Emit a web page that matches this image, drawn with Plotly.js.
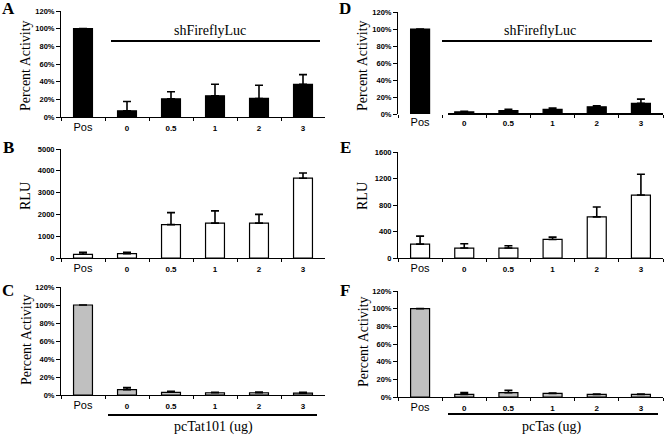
<!DOCTYPE html>
<html><head><meta charset="utf-8">
<script src="https://cdn.plot.ly/plotly-3.0.1.min.js"></script>
<style>html,body{margin:0;padding:0;background:#fff}#c{width:664px;height:435px}</style>
</head><body><div id="c"></div>
<script>
// ---- data ----
const categories = ['Pos', '0', '0.5', '1', '2', '3'];
const A_vals = [100, 7, 20.5, 24, 21, 37];
const A_err  = [0, 10.5, 8, 13, 15, 11];
const B_vals = [170, 200, 1530, 1600, 1600, 3660];
const B_err  = [90, 60, 550, 560, 400, 240];
const C_vals = [100, 6, 3, 2.5, 2.5, 2];
const C_err  = [0, 2.2, 1, 0.4, 0.8, 1];
const D_vals = [100, 2.4, 4, 5.5, 8.5, 12.5];
const D_err  = [0, 0.8, 1.5, 1.5, 1.2, 5];
const E_vals = [210, 150, 150, 280, 620, 950];
const E_err  = [120, 65, 35, 35, 150, 315];
const F_vals = [100, 3, 5, 4, 3, 3];
const F_err  = [0, 2, 2.7, 0.5, 0.4, 0.3];
const pctTicks = [0, 20, 40, 60, 80, 100, 120];
const B_ticks = [0, 1000, 2000, 3000, 4000, 5000];
const E_ticks = [0, 400, 800, 1200, 1600];

// ---- helpers ----
const W = 664, H = 435;
const px = x => x / W;
const py = y => 1 - y / H;
const zeros = n => new Array(n).fill(0);
const tickText = categories.map(c => c === 'Pos' ? 'Pos' : '<b><span style="font-size:8px">' + c + '</span></b>');

function bar(vals, err, fill, ax) {
  return {
    type: 'bar', x: categories, y: vals, width: 0.43,
    xaxis: 'x' + ax, yaxis: 'y' + ax,
    marker: {color: fill, line: {color: '#000', width: 1.2}},
    error_y: {type: 'data', symmetric: false, array: err, arrayminus: zeros(err.length),
              color: '#000', thickness: 1.6, width: 4},
    hoverinfo: 'skip', showlegend: false
  };
}
const traces = [
  bar(A_vals, A_err, '#000', ''),
  bar(B_vals, B_err, '#fff', '2'),
  bar(C_vals, C_err, '#c0c0c0', '3'),
  bar(D_vals, D_err, '#000', '4'),
  bar(E_vals, E_err, '#fff', '5'),
  bar(F_vals, F_err, '#c0c0c0', '6')
];

const tickFontY = {family: 'Liberation Sans, Arial, sans-serif', size: 7.5, color: '#000', weight: 'bold'};
const tickFontX = {family: 'Liberation Sans, Arial, sans-serif', size: 11, color: '#000'};

function xax(d0, d1, anchor, showline) {
  return {domain: [px(d0), px(d1)], anchor: anchor, type: 'category',
    categoryorder: 'array', categoryarray: categories, range: [-0.5, 5.5],
    tickmode: 'array', tickvals: categories, ticktext: tickText,
    showline: showline, linecolor: '#000', linewidth: 1, ticks: 'outside', tickson: 'boundaries',
    ticklen: 3, tickcolor: '#000', tickfont: tickFontX, showgrid: false, zeroline: false, fixedrange: true};
}
function yax(b, t, anchor, range, tv, suffix) {
  return {domain: [py(b), py(t)], anchor: anchor, range: range, tickmode: 'array', tickvals: tv,
    ticktext: tv.map(v => v + suffix), showline: true, linecolor: '#000', linewidth: 1,
    ticks: 'outside', ticklen: 4, tickcolor: '#000', tickfont: tickFontY,
    showgrid: false, zeroline: false, fixedrange: true};
}

const letterFont = {family: 'Liberation Serif, Times New Roman, serif', size: 17, color: '#000', weight: 'bold'};
const titleFont = {family: 'Liberation Serif, Times New Roman, serif', size: 14, color: '#000'};
function ann(text, x, y, font, angle) {
  return {text: text, x: px(x), y: py(y), xref: 'paper', yref: 'paper', showarrow: false,
    xanchor: 'center', yanchor: 'middle', font: font, textangle: angle || 0};
}
function hline(x0, x1, y) {
  return {type: 'line', xref: 'paper', yref: 'paper', x0: px(x0), x1: px(x1), y0: py(y), y1: py(y),
    line: {color: '#000', width: 1.8}};
}

const layout = {
  width: W, height: H, margin: {l: 0, r: 0, t: 0, b: 0},
  paper_bgcolor: '#fff', plot_bgcolor: 'rgba(0,0,0,0)', showlegend: false,
  xaxis:  xax(61, 325, 'y', true),
  yaxis:  yax(117, 11, 'x', [0, 120], pctTicks, '%'),
  xaxis2: xax(61, 325, 'y2', true),
  yaxis2: yax(258, 149, 'x2', [0, 5000], B_ticks, ''),
  xaxis3: xax(61, 325, 'y3', true),
  yaxis3: yax(395, 287, 'x3', [0, 120], pctTicks, '%'),
  xaxis4: xax(398, 663, 'y4', false),
  yaxis4: yax(114, 12, 'x4', [0, 120], pctTicks, '%'),
  xaxis5: xax(398, 663, 'y5', true),
  yaxis5: yax(258, 152, 'x5', [0, 1600], E_ticks, ''),
  xaxis6: xax(398, 663, 'y6', true),
  yaxis6: yax(397, 291, 'x6', [0, 120], pctTicks, '%'),
  annotations: [
    ann('A', 8, 8, letterFont), ann('B', 8, 148, letterFont), ann('C', 8, 290, letterFont),
    ann('D', 345, 8, letterFont), ann('E', 345, 148, letterFont), ann('F', 345, 290, letterFont),
    ann('Percent Activity', 26, 66, titleFont, -90),
    ann('RLU', 26, 196, titleFont, -90),
    ann('Percent Activity', 26, 340, titleFont, -90),
    ann('Percent Activity', 363, 66, titleFont, -90),
    ann('RLU', 363, 196, titleFont, -90),
    ann('Percent Activity', 363, 342, titleFont, -90),
    ann('shFireflyLuc', 210, 31, titleFont),
    ann('shFireflyLuc', 540, 31, titleFont),
    ann('pcTat101 (ug)', 213, 427, titleFont),
    ann('pcTas (ug)', 552, 427, titleFont)
  ],
  shapes: [
    hline(111, 320, 41), hline(442, 652, 41),
    hline(108, 317, 415), hline(448, 658, 414),
    hline(448, 663, 114)
  ]
};

Plotly.newPlot('c', traces, layout, {staticPlot: true, displayModeBar: false});
</script></body></html>
